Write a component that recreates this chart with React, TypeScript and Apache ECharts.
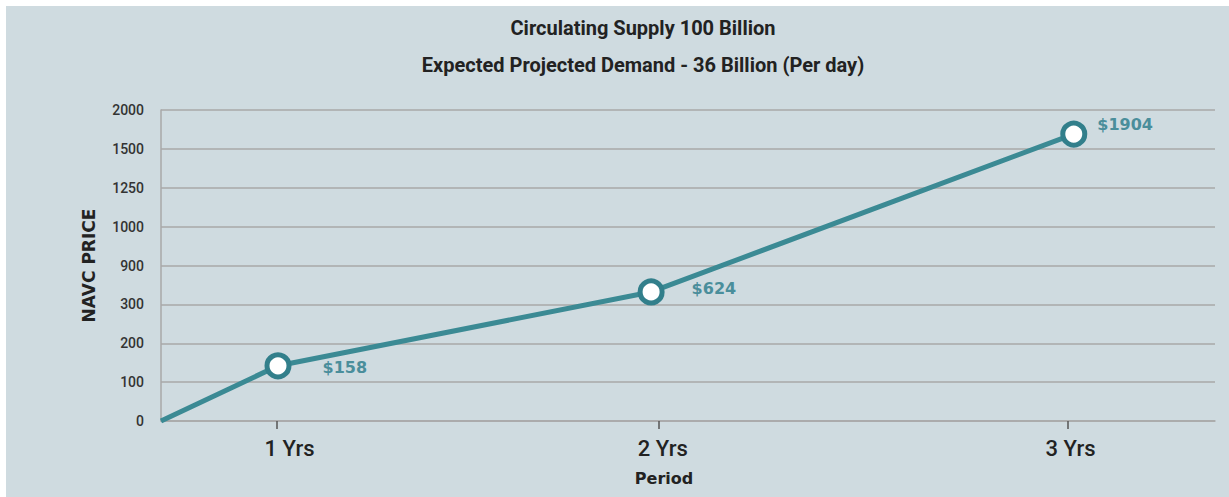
import { useEffect, useRef } from "react";
import * as echarts from "echarts";

// ---- data ----
const titleLines = [
  "Circulating Supply 100 Billion",
  "Expected Projected Demand - 36 Billion (Per day)",
];
const yTickLabels = ["0", "100", "200", "300", "900", "1000", "1250", "1500", "2000"];
const periods = ["1 Yrs", "2 Yrs", "3 Yrs"];
const periodTickPos = [1.1, 4.72, 8.6];
const periodLabelPos = [1.22, 4.76, 8.63];
const prices = [158, 624, 1904];
const pointX = [1.11, 4.65, 8.66];
// position of each point on the (uneven) price-tick scale
const pointY = [1.42, 3.32, 7.38];
const origin = [0, 0];

// ---- styles ----
const labelDistance = [31, 27, 10];
const labelOffsetY = [2, -3, -10];
const BG = "#cfdbe0";
const GRID = "#a9a9a9";
const TEAL = "#3b8a94";

function nearestIndex(arr: number[], v: number) {
  let best = 0;
  for (let i = 1; i < arr.length; i++) {
    if (Math.abs(arr[i] - v) < Math.abs(arr[best] - v)) best = i;
  }
  return best;
}

export default function App() {
  const ref = useRef<HTMLDivElement>(null);

  useEffect(() => {
    if (!ref.current) return;
    const chart = echarts.init(ref.current, undefined, { renderer: "svg" });
    const data: any[] = [
      { value: origin, symbol: "none", label: { show: false } },
      ...prices.map((p, i) => ({
        value: [pointX[i], pointY[i]],
        label: { distance: labelDistance[i], offset: [0, labelOffsetY[i]] },
      })),
    ];
    chart.setOption({
      animation: false,
      backgroundColor: BG,
      grid: { left: 155, right: 14, top: 104, bottom: 76, outerBoundsMode: "none" },
      graphic: titleLines.map((t, i) => ({
        type: "text",
        x: 637,
        y: 22 + i * 37,
        style: {
          text: t,
          fill: "#222",
          font: "bold 20px Roboto",
          textAlign: "center",
          textVerticalAlign: "middle",
        },
      })),
      xAxis: {
        type: "value",
        min: 0,
        max: 10,
        splitLine: { show: false },
        axisLine: { show: true, lineStyle: { color: GRID, width: 1.5 } },
        axisTick: {
          show: true,
          customValues: periodTickPos,
          length: 8,
          lineStyle: { color: "#555", width: 1.5 },
        },
        axisLabel: {
          customValues: periodLabelPos,
          formatter: (v: number) => periods[nearestIndex(periodLabelPos, v)],
          fontFamily: "Roboto",
          fontWeight: 500,
          fontSize: 22,
          color: "#222",
          margin: 16,
        },
        name: "Period",
        nameLocation: "middle",
        nameGap: 49,
        nameTextStyle: {
          fontFamily: "DejaVu Sans",
          fontWeight: "bold",
          fontSize: 16,
          color: "#222",
          padding: [0, 48, 0, 0],
        },
      },
      yAxis: {
        type: "value",
        min: 0,
        max: 8,
        interval: 1,
        axisLine: { show: true, lineStyle: { color: GRID, width: 1.5 } },
        axisTick: { show: false },
        splitLine: { show: true, lineStyle: { color: GRID, width: 1.5 } },
        axisLabel: {
          formatter: (v: number) => yTickLabels[Math.round(v)] ?? "",
          fontFamily: "Roboto",
          fontWeight: 500,
          fontSize: 14,
          color: "#333",
          margin: 17,
        },
        name: "NAVC PRICE",
        nameLocation: "middle",
        nameRotate: 90,
        nameGap: 64,
        nameTextStyle: {
          fontFamily: "DejaVu Sans",
          fontWeight: "bold",
          fontSize: 17,
          color: "#222",
        },
      },
      series: [
        {
          type: "line",
          data,
          symbol: "circle",
          symbolSize: 22,
          lineStyle: { color: TEAL, width: 5 },
          itemStyle: { color: "#ffffff", borderColor: "#327f8b", borderWidth: 5 },
          label: {
            show: true,
            position: "right",
            formatter: (p: any) => "$" + prices[p.dataIndex - 1],
            color: "#4a8e9b",
            fontFamily: "DejaVu Sans",
            fontWeight: "bold",
            fontSize: 16,
          },
          emphasis: { disabled: true },
        },
      ],
    });
    return () => chart.dispose();
  }, []);

  return (
    <div
      style={{
        position: "fixed",
        left: 0,
        top: 0,
        width: 1229,
        height: 497,
        background: "#ffffff",
      }}
    >
      <div
        ref={ref}
        style={{ position: "absolute", left: 6, top: 6, width: 1223, height: 491 }}
      />
    </div>
  );
}
